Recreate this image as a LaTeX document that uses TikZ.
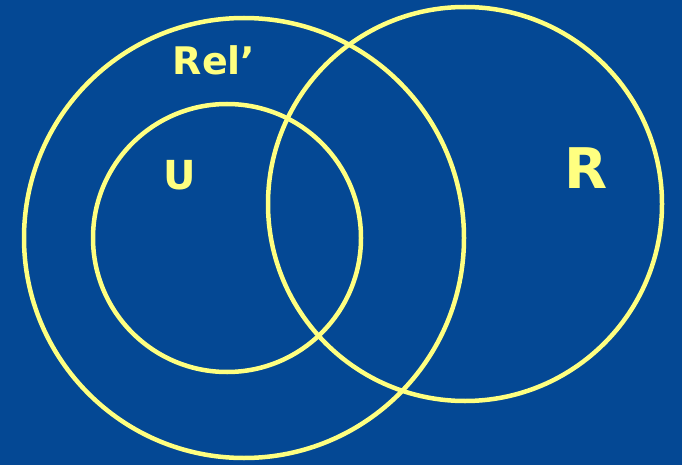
\documentclass[tikz,border=0pt]{standalone}
\usepackage{fontspec}
\setmainfont{DejaVu Sans}
\definecolor{bgblue}{RGB}{4,72,148}
\definecolor{penyellow}{RGB}{255,255,128}
\begin{document}
\begin{tikzpicture}[x=1pt,y=-1pt,
  ring/.style={draw=penyellow,line width=4.5pt},
  hand/.style={text=penyellow,font=\fontsize{#1}{#1}\selectfont\bfseries,inner sep=0pt}]
\fill[bgblue] (0,0) rectangle (682,465);
\useasboundingbox (0,0) rectangle (682,465);
\node[ring,circle,minimum size=440pt,inner sep=0pt] (rel) at (244,238) {};
\node[ring,circle,minimum size=268pt,inner sep=0pt] (u) at (227,238) {};
\node[ring,circle,minimum size=394pt,inner sep=0pt] (r) at (465,204) {};
\node[hand=38] (tRel) at (214,60) {Rel'};
\node[hand=40] (tU) at (180,175) {U};
\node[hand=56] (tR) at (586,168) {R};
\end{tikzpicture}
\end{document}
